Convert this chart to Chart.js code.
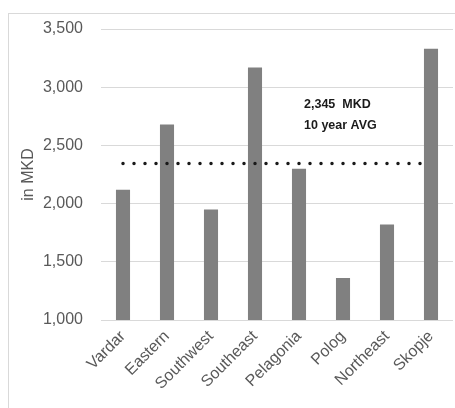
<!DOCTYPE html>
<html lang="en">
<head>
    <meta charset="UTF-8">
    <title>Average income by region</title>
    <script src="https://cdn.jsdelivr.net/npm/chart.js"></script>
    <style>
        body { margin: 0; background: #fff; }
        .frame { position: absolute; left: 8px; top: 13px; width: 500px; height: 450px; border: 1px solid #d9d9d9; }
        .wrap { position: absolute; left: 0; top: 0; width: 455px; height: 408px; }
    </style>
</head>
<body>
    <div class="frame"></div>
    <div class="wrap"><canvas id="incomeChart" width="455" height="408"></canvas></div>

    <script>
        // data
        const regions = ['Vardar', 'Eastern', 'Southwest', 'Southeast', 'Pelagonia', 'Polog', 'Northeast', 'Skopje'];
        const income = [2120, 2680, 1950, 3170, 2300, 1360, 1820, 3330];
        const tenYearAvg = 2345;
        const avgLabel = ['2,345  MKD', '10 year AVG'];
        const yMin = 1000, yMax = 3500, yStep = 500;

        const avgLine = regions.map(() => tenYearAvg);

        // the two-line note above the dotted average line
        const avgText = {
            id: 'avgText',
            afterDatasetsDraw(chart) {
                const { ctx, scales } = chart;
                const x = scales.x.getPixelForValue(4) + 5;
                ctx.save();
                ctx.fillStyle = '#1a1a1a';
                ctx.font = 'bold 12.5px "Liberation Sans", Arial, sans-serif';
                ctx.textAlign = 'left';
                ctx.textBaseline = 'middle';
                ctx.fillText(avgLabel[0], x, scales.y.getPixelForValue(2855));
                ctx.fillText(avgLabel[1], x, scales.y.getPixelForValue(2667));
                ctx.restore();
            }
        };

        const ctx = document.getElementById('incomeChart').getContext('2d');
        new Chart(ctx, {
            type: 'bar',
            data: {
                labels: regions,
                datasets: [
                    {
                        type: 'line',
                        data: avgLine,
                        borderColor: '#1a1a1a',
                        borderWidth: 3.5,
                        borderDash: [0, 11],
                        borderCapStyle: 'round',
                        pointRadius: 0,
                        fill: false,
                        order: 0
                    },
                    {
                        data: income,
                        backgroundColor: '#808080',
                        barPercentage: 0.32,
                        categoryPercentage: 1,
                        order: 1
                    }
                ]
            },
            options: {
                responsive: false,
                animation: false,
                layout: { padding: { left: 0, right: 2, top: 29, bottom: 0 } },
                plugins: {
                    legend: { display: false },
                    tooltip: { enabled: false }
                },
                scales: {
                    x: {
                        grid: { display: false, drawTicks: false },
                        border: { display: false },
                        ticks: {
                            color: '#595959',
                            font: { size: 16, family: '"Liberation Sans", Arial, sans-serif' },
                            minRotation: 45,
                            maxRotation: 45,
                            padding: 7
                        },
                        afterFit(scale) {
                            scale.height = 88;
                            scale.paddingLeft = 0;
                            scale.paddingRight = 0;
                        }
                    },
                    y: {
                        min: yMin,
                        max: yMax,
                        grid: { color: '#d9d9d9', drawTicks: false },
                        border: { display: false },
                        ticks: {
                            stepSize: yStep,
                            color: '#595959',
                            padding: 18,
                            font: { size: 16, family: '"Liberation Sans", Arial, sans-serif' },
                            callback: v => v.toLocaleString('en-US')
                        },
                        title: {
                            display: true,
                            text: 'in MKD',
                            color: '#595959',
                            font: { size: 16, family: '"Liberation Sans", Arial, sans-serif' },
                            padding: { top: 19, bottom: 0 }
                        },
                        afterFit(scale) {
                            scale.width = 101;
                            scale.paddingTop = 0;
                            scale.paddingBottom = 0;
                        }
                    }
                }
            },
            plugins: [avgText]
        });
    </script>
</body>
</html>
